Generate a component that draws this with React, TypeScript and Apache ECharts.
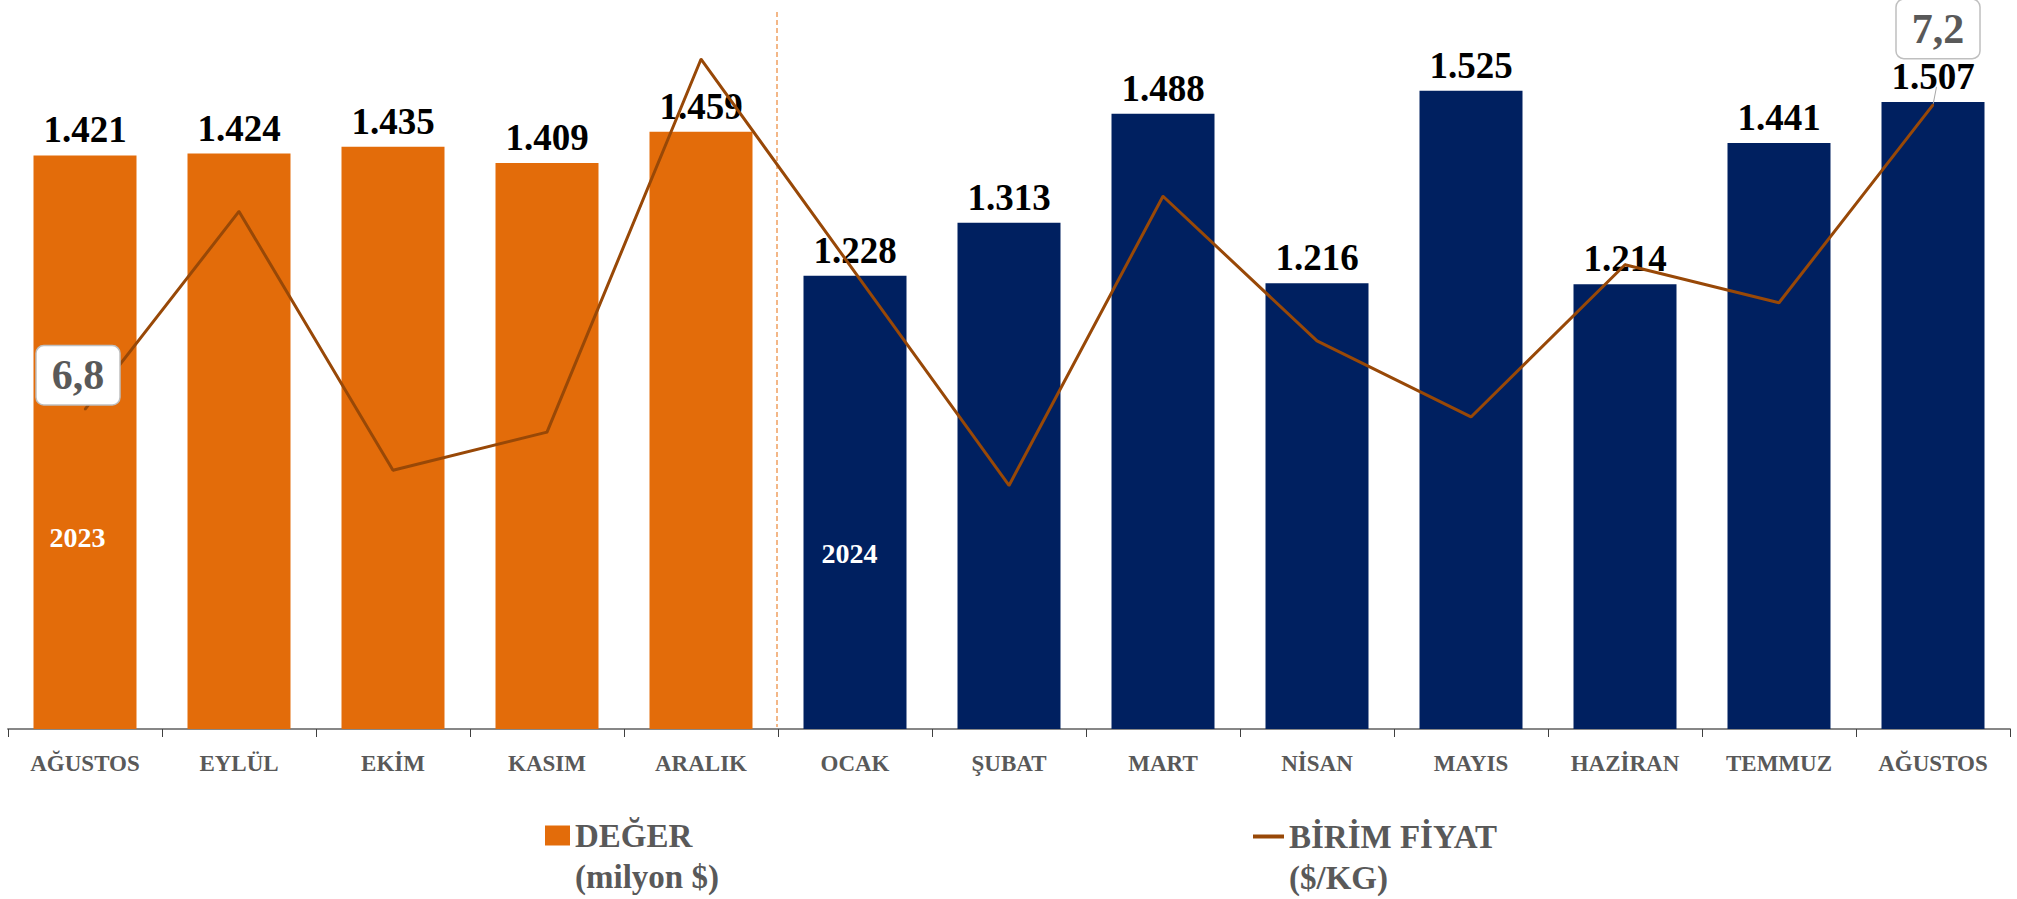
import React, { useEffect, useRef } from 'react';
import * as echarts from 'echarts';

const categories = ['AĞUSTOS', 'EYLÜL', 'EKİM', 'KASIM', 'ARALIK', 'OCAK', 'ŞUBAT', 'MART', 'NİSAN', 'MAYIS', 'HAZİRAN', 'TEMMUZ', 'AĞUSTOS'];
const years = ['2023', '2023', '2023', '2023', '2023', '2024', '2024', '2024', '2024', '2024', '2024', '2024', '2024'];
const exportValues = [1421, 1424, 1435, 1409, 1459, 1228, 1313, 1488, 1216, 1525, 1214, 1441, 1507];
const unitPrices = [6.80, 7.06, 6.72, 6.77, 7.26, 6.98, 6.70, 7.08, 6.89, 6.79, 6.99, 6.94, 7.20];
const yearLabels = ['2023', '2024'];
const seriesNames = ['DEĞER\n(milyon $)', 'BİRİM FİYAT\n($/KG)'];

const ORANGE = '#E36C0A';
const NAVY = '#002060';
const BROWN = '#984807';
const GRAY = '#595959';
const FONT = '"Liberation Serif", "DejaVu Serif", serif';

const fmtThousands = (v: number) => {
  const s = String(Math.round(v));
  return s.length > 3 ? s.slice(0, s.length - 3) + '.' + s.slice(s.length - 3) : s;
};
const fmtPrice = (v: number) => v.toFixed(1).replace('.', ',');

export default function App() {
  const ref = useRef<HTMLDivElement>(null);
  useEffect(() => {
    if (!ref.current) return;
    const chart = echarts.init(ref.current, undefined, { renderer: 'svg' });
    const last = unitPrices.length - 1;
    const legendText = {
      fontFamily: FONT,
      fontWeight: 'bold',
      fontSize: 33,
      color: GRAY,
      lineHeight: 41,
    };
    const option: any = {
      animation: false,
      backgroundColor: '#ffffff',
      grid: { left: 8, right: 7, top: 44, bottom: 170 },
      xAxis: {
        type: 'category',
        data: categories,
        axisLine: { lineStyle: { color: '#878787', width: 2 } },
        axisTick: { show: true, length: 8, lineStyle: { color: '#404040', width: 1 } },
        axisLabel: {
          color: GRAY,
          fontFamily: FONT,
          fontWeight: 'bold',
          fontSize: 23,
          lineHeight: 24,
          margin: 22,
          interval: 0,
        },
      },
      yAxis: [
        { type: 'value', min: 500, max: 1600, show: false, splitLine: { show: false } },
        { type: 'value', min: 6.38, max: 7.28, show: false, splitLine: { show: false } },
      ],
      legend: [
        {
          data: [seriesNames[0]],
          left: 545,
          top: 774,
          padding: 0,
          icon: 'rect',
          itemWidth: 25,
          itemHeight: 20,
          formatter: (name: string) => '\n' + name,
          textStyle: legendText,
        },
        {
          data: [seriesNames[1]],
          left: 1253,
          top: 775,
          padding: 0,
          icon: 'rect',
          itemWidth: 31,
          itemHeight: 4,
          formatter: (name: string) => '\n' + name,
          textStyle: legendText,
        },
      ],
      graphic: [
        {
          type: 'line',
          shape: { x1: 777, y1: 12, x2: 777, y2: 727 },
          style: { stroke: '#F0A060', lineWidth: 1.5, lineDash: [5, 3] },
          z: 1,
        },
        {
          type: 'text',
          x: 77.5,
          y: 537.5,
          z: 100,
          style: {
            text: yearLabels[0],
            fill: '#ffffff',
            font: `bold 28px ${FONT}`,
            textAlign: 'center',
            textVerticalAlign: 'middle',
          },
        },
        {
          type: 'text',
          x: 849.5,
          y: 553,
          z: 100,
          style: {
            text: yearLabels[1],
            fill: '#ffffff',
            font: `bold 28px ${FONT}`,
            textAlign: 'center',
            textVerticalAlign: 'middle',
          },
        },
      ],
      series: [
        {
          name: seriesNames[0],
          type: 'bar',
          barWidth: 103,
          itemStyle: { color: ORANGE },
          data: exportValues.map((v, i) => ({
            value: v,
            itemStyle: { color: years[i] === yearLabels[0] ? ORANGE : NAVY },
          })),
          label: {
            show: true,
            position: 'top',
            distance: 7,
            formatter: (p: any) => fmtThousands(p.value),
            fontFamily: FONT,
            fontWeight: 'bold',
            fontSize: 37,
            color: '#000000',
          },
        },
        {
          name: seriesNames[1],
          type: 'line',
          yAxisIndex: 1,
          symbol: 'circle',
          symbolSize: 2,
          showSymbol: true,
          itemStyle: { color: BROWN },
          lineStyle: { color: BROWN, width: 3 },
          z: 3,
          labelLine: { show: true, lineStyle: { color: '#A6A6A6', width: 1 } },
          data: unitPrices.map((v, i) => {
            const shown = i === 0 || i === last;
            return {
              value: v,
              label: shown
                ? {
                    show: true,
                    position: 'top',
                    distance: i === 0 ? 4 : 46,
                    offset: i === 0 ? [-7, 0] : [5, 0],
                  }
                : { show: false },
              labelLine: { show: i === last },
            };
          }),
          label: {
            show: false,
            formatter: (p: any) => fmtPrice(p.value),
            fontFamily: FONT,
            fontWeight: 'bold',
            fontSize: 42,
            lineHeight: 42,
            color: GRAY,
            backgroundColor: '#ffffff',
            borderColor: '#BFBFBF',
            borderWidth: 1.5,
            borderRadius: 7,
            padding: [8, 15],
          },
        },
      ],
    };
    chart.setOption(option);
    return () => chart.dispose();
  }, []);
  return (
    <div
      ref={ref}
      style={{ position: 'absolute', left: 0, top: 0, width: 2017, height: 899, background: '#fff' }}
    />
  );
}
